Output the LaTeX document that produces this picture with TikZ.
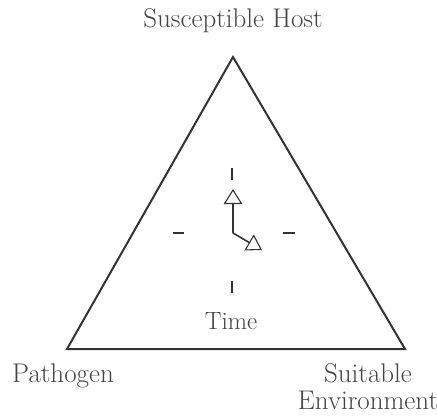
\documentclass[tikz,border=0pt]{standalone}
\usepackage{fontspec}
\usetikzlibrary{arrows.meta}
\definecolor{ink}{HTML}{333333}
\definecolor{txt}{HTML}{444444}
\tikzset{
  lbl/.style={text=txt, inner sep=0pt, font=\fontsize{27}{27}\selectfont},
  small lbl/.style={lbl, font=\fontsize{25}{27}\selectfont},
  edge/.style={draw=ink, line width=2pt, line join=miter},
  tick/.style={draw=ink, line width=2.2pt},
  hand/.style={draw=ink, line width=1.6pt, -{Triangle[open, length=15pt, width=18.5pt, line width=1.1pt]}},
}
\begin{document}
\begin{tikzpicture}[x=1pt, y=-1pt]
\useasboundingbox (0,0) rectangle (437,416);
% triangle corners
\coordinate (top) at (233,57);
\coordinate (left) at (67,349);
\coordinate (right) at (405,349);
\draw[edge] (top) -- (left) -- (right) -- cycle;
% labels
\node[lbl, anchor=base] (host) at (233,27) {Susceptible Host};
\node[lbl, anchor=base] (path) at (63,382) {Pathogen};
\node[lbl, anchor=base, align=center] (env) at (368,409) {Suitable\\Environment};
\node[small lbl, anchor=base] (time) at (231,329) {Time};
% clock
\coordinate (c) at (233,233);
\coordinate (t1a) at (232,168); \coordinate (t1b) at (232,180);
\coordinate (t2a) at (232,281); \coordinate (t2b) at (232,293);
\coordinate (t3a) at (173,233); \coordinate (t3b) at (184,233);
\coordinate (t4a) at (283,233); \coordinate (t4b) at (295,233);
\draw[tick] (t1a) -- (t1b);
\draw[tick] (t2a) -- (t2b);
\draw[tick] (t3a) -- (t3b);
\draw[tick] (t4a) -- (t4b);
\coordinate (hourtip) at (233,189);
\coordinate (mintip) at (262,250);
\draw[hand] (c) -- (hourtip);
\draw[hand] (c) -- (mintip);
\end{tikzpicture}
\end{document}
